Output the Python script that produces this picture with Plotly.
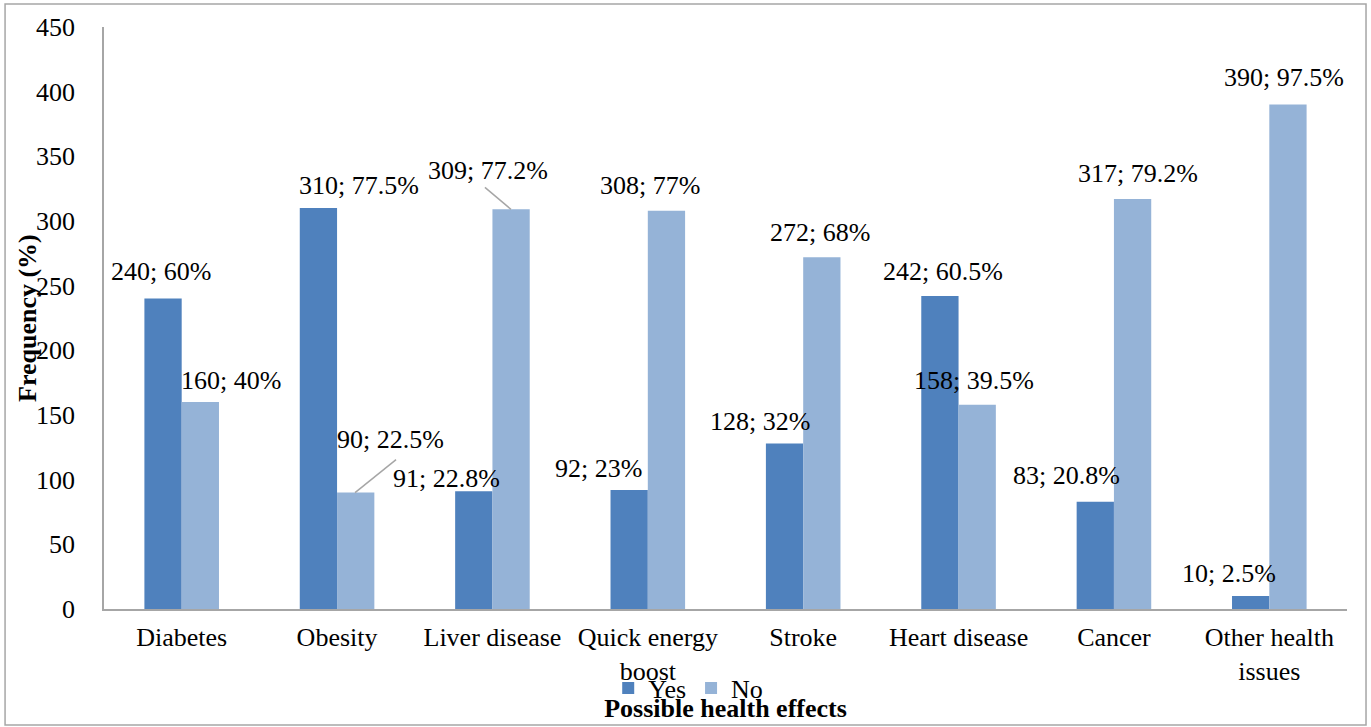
import plotly.graph_objects as go

categories = ["Diabetes", "Obesity", "Liver disease", "Quick energy<br>boost",
              "Stroke", "Heart disease", "Cancer", "Other health<br>issues"]
yes_values = [240, 310, 91, 92, 128, 242, 83, 10]
yes_pct = ["60%", "77.5%", "22.8%", "23%", "32%", "60.5%", "20.8%", "2.5%"]
no_values = [160, 90, 309, 308, 272, 158, 317, 390]
no_pct = ["40%", "22.5%", "77.2%", "77%", "68%", "39.5%", "79.2%", "97.5%"]
y_ticks = [0, 50, 100, 150, 200, 250, 300, 350, 400, 450]

# label offsets (pixels) relative to category centre / bar top
yes_dx = [-21, 22, -46, -49, -43, -16, -47, -40]
yes_dy = [27, 23, 13, 22, 22, 25, 26, 23]
no_dx = [49, 53, -4, 2, 17, 15, 24, 15]
no_dy = [22, 53, 39, 25, 25, 24, 26, 27]

YES_C = "#4F81BD"
NO_C = "#95B3D7"
FONT = "'Times New Roman', 'Liberation Serif', Times, serif"

fig = go.Figure()
fig.add_trace(go.Bar(x=categories, y=yes_values, name="Yes",
                     marker=dict(color=YES_C, line=dict(width=0))))
fig.add_trace(go.Bar(x=categories, y=no_values, name="No",
                     marker=dict(color=NO_C, line=dict(width=0))))

annotations = []
for i, c in enumerate(categories):
    annotations.append(dict(x=c, y=yes_values[i], xref="x", yref="y",
                            text=f"{yes_values[i]}; {yes_pct[i]}", showarrow=False,
                            xshift=yes_dx[i], yshift=yes_dy[i], yanchor="middle",
                            font=dict(family=FONT, size=26, color="black")))
    annotations.append(dict(x=c, y=no_values[i], xref="x", yref="y",
                            text=f"{no_values[i]}; {no_pct[i]}", showarrow=False,
                            xshift=no_dx[i], yshift=no_dy[i], yanchor="middle",
                            font=dict(family=FONT, size=26, color="black")))

# y-axis title
annotations.append(dict(x=0, y=0.5, xref="paper", yref="paper", xshift=-77,
                        text="<b>Frequency (%)</b>", textangle=-90, showarrow=False,
                        xanchor="center", yanchor="middle",
                        font=dict(family=FONT, size=26, color="black")))

shapes = [
    # outer chart border
    dict(type="rect", xref="paper", yref="paper", x0=-0.0796, x1=1.0153,
         y0=-0.1993, y1=1.0395, line=dict(color="#A6A6A6", width=1.5), layer="below"),
    # leader lines
    dict(type="line", xref="x", yref="y", xsizemode="pixel", ysizemode="pixel",
         xanchor=categories[1], yanchor=no_values[1], x0=18, y0=0, x1=59, y1=33,
         line=dict(color="#A6A6A6", width=1.5)),
    dict(type="line", xref="x", yref="y", xsizemode="pixel", ysizemode="pixel",
         xanchor=categories[2], yanchor=no_values[2], x0=18.5, y0=0, x1=-7.5, y1=22,
         line=dict(color="#A6A6A6", width=1.5)),
]

fig.update_layout(
    width=1371, height=727,
    margin=dict(l=104, r=24, t=27, b=118, autoexpand=False),
    paper_bgcolor="white", plot_bgcolor="white",
    barmode="group", bargap=0.52, bargroupgap=0,
    font=dict(family=FONT, size=26, color="black"),
    showlegend=True,
    legend=dict(orientation="h", x=0.47, xanchor="center", y=-0.1357, yanchor="middle",
                font=dict(family=FONT, size=26, color="black"),
                itemwidth=30, bgcolor="rgba(0,0,0,0)"),
    xaxis=dict(showline=True, linecolor="#A6A6A6", linewidth=1.5, ticks="",
               showgrid=False, ticklabelstandoff=4,
               tickfont=dict(family=FONT, size=26, color="black"),
               title=dict(text="<b>Possible health effects</b>", standoff=14,
                          font=dict(family=FONT, size=26, color="black"))),
    yaxis=dict(range=[0, 450], tickvals=y_ticks, showline=True, linecolor="#A6A6A6",
               linewidth=1.5, ticks="", showgrid=False, zeroline=False,
               ticklabelstandoff=22,
               tickfont=dict(family=FONT, size=26, color="black")),
    annotations=annotations,
    shapes=shapes,
)

fig.write_html("out.html", config={"displayModeBar": False},
               post_script="document.body.style.margin='0';document.body.style.overflow='hidden';")
